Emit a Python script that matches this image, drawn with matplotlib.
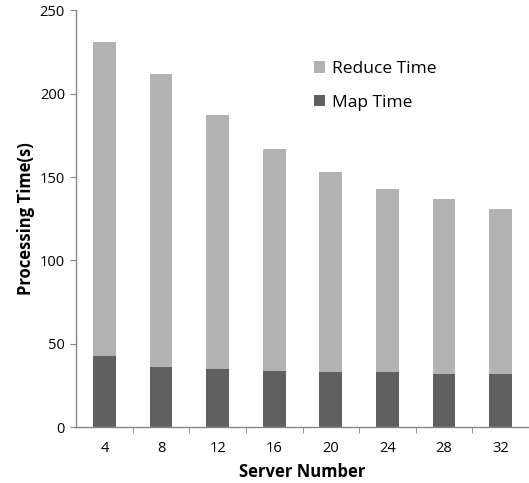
import numpy as np
import matplotlib.pyplot as plt

plt.rcParams['font.family'] = ['Open Sans', 'DejaVu Sans']

# Data
servers = ['4', '8', '12', '16', '20', '24', '28', '32']
map_time = [43, 36, 35, 34, 33, 33, 32, 32]
total_time = [231, 212, 187, 167, 153, 143, 137, 131]
reduce_time = [t - m for t, m in zip(total_time, map_time)]

map_color = '#606060'
reduce_color = '#b2b2b2'
axis_color = '#868686'

fig = plt.figure(figsize=(5.29, 4.83), dpi=100)
ax = fig.add_axes([0.1437, 0.1153, 0.8563, 0.8637])

x = np.arange(len(servers))
ax.bar(x, map_time, width=0.4, color=map_color, label='Map Time')
ax.bar(x, reduce_time, width=0.4, bottom=map_time, color=reduce_color, label='Reduce Time')

ax.set_xlim(-0.5, len(servers) - 0.5)
ax.set_ylim(0, 250)
ax.set_yticks(range(0, 251, 50))

# category labels in the middle, tick marks on the boundaries
ax.set_xticks(x)
ax.set_xticklabels(servers)
ax.set_xticks(np.arange(0.5, len(servers) - 0.5, 1), minor=True)
ax.tick_params(axis='x', which='major', length=0, pad=10, labelsize=10.5)
ax.tick_params(axis='x', which='minor', length=4, color=axis_color, direction='out')
ax.tick_params(axis='y', length=4, color=axis_color, direction='out', pad=4, labelsize=10.5)

for side in ['top', 'right']:
    ax.spines[side].set_visible(False)
for side in ['left', 'bottom']:
    ax.spines[side].set_color(axis_color)
    ax.spines[side].set_linewidth(1)

ax.set_xlabel('Server Number', fontsize=12, fontweight='bold', labelpad=5)
ax.set_ylabel('Processing Time(s)', fontsize=12, fontweight='bold', labelpad=3)

handles, labels = ax.get_legend_handles_labels()
ax.legend(handles[::-1], labels[::-1], loc='upper left', bbox_to_anchor=(0.49, 0.915),
          frameon=False, fontsize=12.5, handlelength=0.65, handleheight=0.65,
          handletextpad=0.4, labelspacing=1.0)

fig.savefig('out.png', dpi=100)
